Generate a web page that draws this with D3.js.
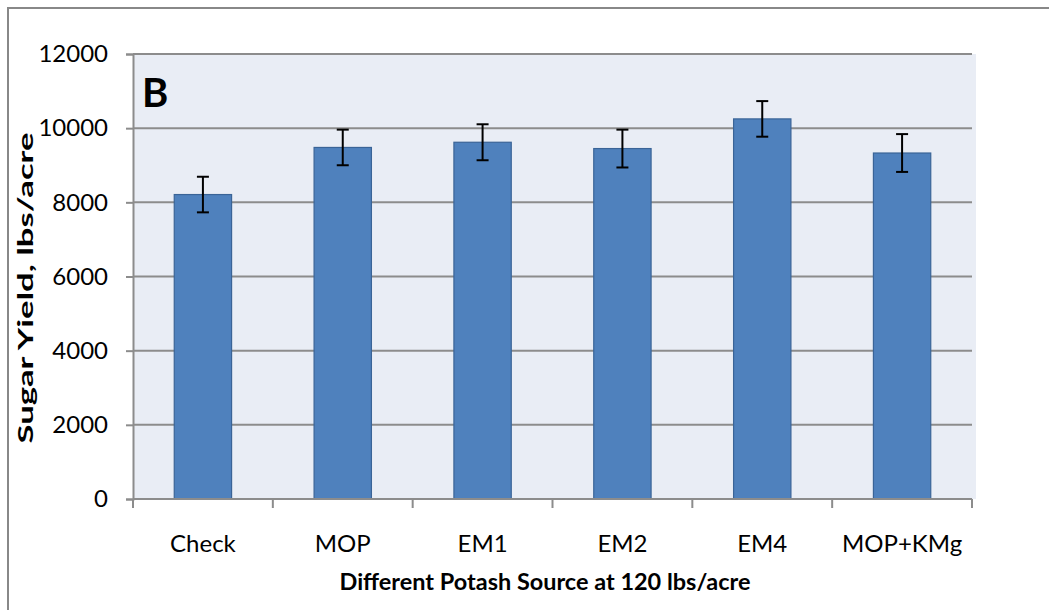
<!DOCTYPE html>
<html>
<head>
<meta charset="utf-8">
<script src="https://cdn.jsdelivr.net/npm/d3@7"></script>
<style>
  html, body { margin: 0; padding: 0; background: #ffffff; }
  svg { display: block; }
  text { font-family: Lato, "Open Sans", sans-serif; fill: #000; }
</style>
</head>
<body>
<svg id="chart" width="1049" height="610"></svg>
<script>
// Sugar yield by potash source
const categories = ["Check", "MOP", "EM1", "EM2", "EM4", "MOP+KMg"];
const yieldValues = [8210, 9480, 9620, 9450, 10250, 9330];
const errorValues = [480, 480, 485, 510, 480, 510];
const yTicks = [0, 2000, 4000, 6000, 8000, 10000, 12000];

const svg = d3.select("#chart");
const plot = { left: 133, right: 972, top: 54, bottom: 499 };

// outer frame
svg.append("rect")
  .attr("x", 8).attr("y", 8)
  .attr("width", 1100).attr("height", 700)
  .attr("fill", "none").attr("stroke", "#888").attr("stroke-width", 2);

const x = d3.scaleBand().domain(categories).range([plot.left, plot.right]).paddingInner(0).paddingOuter(0);
const y = d3.scaleLinear().domain([0, 12000]).range([plot.bottom, plot.top]);

// plot area background
svg.append("rect")
  .attr("x", plot.left).attr("y", plot.top)
  .attr("width", plot.right - plot.left + 4)
  .attr("height", plot.bottom - plot.top)
  .attr("fill", "#e9edf5");

// horizontal gridlines
svg.append("g").selectAll("line")
  .data(yTicks.filter(d => d > 0))
  .join("line")
  .attr("x1", plot.left).attr("x2", plot.right)
  .attr("y1", d => y(d)).attr("y2", d => y(d))
  .attr("stroke", "#8c8c8c").attr("stroke-width", 2);

// bars
const barW = x.bandwidth() * 0.41;
svg.append("g").selectAll("rect")
  .data(categories)
  .join("rect")
  .attr("x", (d) => x(d) + (x.bandwidth() - barW) / 2)
  .attr("y", (d, i) => y(yieldValues[i]))
  .attr("width", barW)
  .attr("height", (d, i) => y(0) - y(yieldValues[i]))
  .attr("fill", "#4f81bd")
  .attr("stroke", "#3a6497").attr("stroke-width", 1.2);

// error bars
const capW = 12;
const eb = svg.append("g").selectAll("g")
  .data(categories)
  .join("g")
  .attr("stroke", "#000").attr("stroke-width", 2);
eb.append("line")
  .attr("x1", d => x(d) + x.bandwidth() / 2).attr("x2", d => x(d) + x.bandwidth() / 2)
  .attr("y1", (d, i) => y(yieldValues[i] + errorValues[i]))
  .attr("y2", (d, i) => y(yieldValues[i] - errorValues[i]));
eb.append("line")
  .attr("x1", d => x(d) + x.bandwidth() / 2 - capW / 2).attr("x2", d => x(d) + x.bandwidth() / 2 + capW / 2)
  .attr("y1", (d, i) => y(yieldValues[i] + errorValues[i]))
  .attr("y2", (d, i) => y(yieldValues[i] + errorValues[i]));
eb.append("line")
  .attr("x1", d => x(d) + x.bandwidth() / 2 - capW / 2).attr("x2", d => x(d) + x.bandwidth() / 2 + capW / 2)
  .attr("y1", (d, i) => y(yieldValues[i] - errorValues[i]))
  .attr("y2", (d, i) => y(yieldValues[i] - errorValues[i]));

// y axis
const yAxis = svg.append("g")
  .attr("transform", `translate(${plot.left},0)`)
  .call(d3.axisLeft(y).tickValues(yTicks).tickSize(7).tickPadding(18).tickFormat(d3.format("d")));
yAxis.select(".domain").attr("stroke", "#8c8c8c").attr("stroke-width", 2);
yAxis.selectAll(".tick line").attr("stroke", "#8c8c8c").attr("stroke-width", 2);
yAxis.selectAll(".tick text")
  .attr("font-family", "Lato, sans-serif").attr("font-size", 24).attr("fill", "#000");

// x axis: tick marks sit on the category boundaries
const xAxis = svg.append("g").attr("transform", `translate(0,${plot.bottom})`);
xAxis.append("line")
  .attr("x1", plot.left).attr("x2", plot.right)
  .attr("stroke", "#8c8c8c").attr("stroke-width", 2);
const bounds = categories.map(d => x(d)).concat([plot.right]);
xAxis.selectAll("line.tk")
  .data(bounds)
  .join("line").attr("class", "tk")
  .attr("x1", d => d).attr("x2", d => d)
  .attr("y1", 0).attr("y2", 9)
  .attr("stroke", "#8c8c8c").attr("stroke-width", 2);
xAxis.selectAll("text")
  .data(categories)
  .join("text")
  .attr("x", d => x(d) + x.bandwidth() / 2)
  .attr("y", 53)
  .attr("text-anchor", "middle")
  .attr("font-size", 24)
  .text(d => d);

// axis titles
svg.append("text")
  .attr("x", 545).attr("y", 590)
  .attr("text-anchor", "middle")
  .attr("font-size", 22).attr("font-weight", "bold")
  .attr("textLength", 411).attr("lengthAdjust", "spacingAndGlyphs")
  .text("Different Potash Source at 120 lbs/acre");

svg.append("text")
  .attr("transform", "translate(33,288) rotate(-90)")
  .attr("text-anchor", "middle")
  .attr("font-size", 21).attr("font-weight", "bold")
  .attr("textLength", 311).attr("lengthAdjust", "spacingAndGlyphs")
  .text("Sugar Yield, lbs/acre");

// panel letter
svg.append("text")
  .attr("x", 142).attr("y", 107)
  .attr("font-size", 40).attr("font-weight", "bold")
  .text("B");
</script>
</body>
</html>
